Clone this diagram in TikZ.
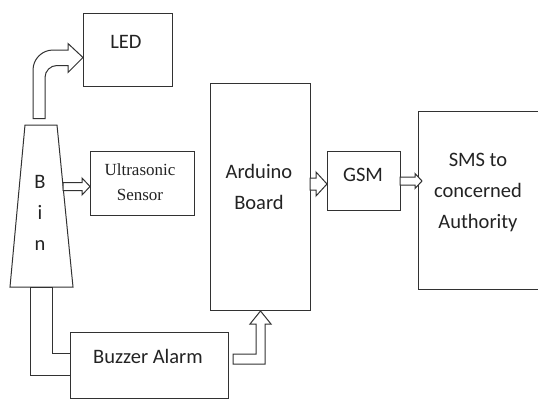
\documentclass[tikz,border=0pt]{standalone}
\usepackage{fontspec}
\setmainfont{Carlito}
\newfontfamily\sensorfont{Liberation Serif}
\usetikzlibrary{calc,positioning}
\definecolor{cLine}{RGB}{50,50,50}
\definecolor{cText}{RGB}{35,35,35}
\tikzset{
  blockbox/.style={rectangle,draw=cLine,line width=1pt,fill=white,
                   anchor=north west,inner sep=0pt},
  binline/.style={draw=cLine,line width=1pt,fill=white,line join=miter},
  lbl/.style={font=\fontsize{20.5}{31}\selectfont,align=center,
              inner sep=0pt,text=cText},
  serlbl/.style={font=\sensorfont\fontsize{17}{25}\selectfont,align=center,
                 inner sep=0pt,text=cText},
  hollow/.style={draw=cLine,line width=1pt,fill=white,line join=miter}
}

\begin{document}
\begin{tikzpicture}[x=1pt,y=-1pt]
  \useasboundingbox (0,0) rectangle (538,399);
  % boxes
  \node[blockbox,minimum width=89pt,minimum height=73pt] (led) at (83,13) {};
  \node[blockbox,minimum width=104pt,minimum height=64pt] (us) at (90,151) {};
  \node[blockbox,minimum width=100pt,minimum height=227pt] (ard) at (210,83) {};
  \node[blockbox,minimum width=73pt,minimum height=59pt] (gsm) at (327,151) {};
  \node[blockbox,minimum width=140pt,minimum height=178pt] (sms) at (418,111) {};
  \node[blockbox,minimum width=158pt,minimum height=66pt] (buz) at (70,332) {};

  % bin
  \coordinate (bintop) at (41,125);
  \coordinate (binbot) at (41.5,287);
  \draw[binline] ($(binbot)+(-31.5,0)$) -- ($(bintop)+(-16,0)$) -- ++(32,0)
      -- ($(binbot)+(31.5,0)$) -- cycle;

  % texts
  \node[lbl] (ledtxt) at (126,42) {LED};
  \node[lbl] (bintxt) at (40,213) {B\\i\\n};
  \node[serlbl] (ustxt) at (140,182) {Ultrasonic\\Sensor};
  \node[lbl] (ardtxt) at (259,187) {Arduino\\Board};
  \node[lbl] (gsmtxt) at (363,175) {GSM};
  \node[lbl] (smstxt) at (478,192) {SMS to\\concerned\\Authority};
  \node[lbl] (buztxt) at (148,356) {Buzzer Alarm};

  % hollow arrows
  \draw[hollow] ($(led.west)+(0,7.5)$) -- ++(-15,-14) -- ++(0,6.5) -- ++(-15,0)
      .. controls +(-11,0) and +(0,-11) .. ++(-20,20) -- ++(0,48.5)
      -- ++(12,0) -- ++(0,-41)
      .. controls +(0,-6.6) and +(-6.6,0) .. ++(12,-12) -- ++(11,0)
      -- ++(0,7) -- cycle;
  \draw[hollow] ($(us.west)+(0,3)$) -- ++(-8,-8.5) -- ++(0,4.5) -- ++(-19,0)
      -- ++(0,8) -- ++(19,0) -- ++(0,4.5) -- cycle;
  \draw[hollow] ($(gsm.west)+(0,3)$) -- ++(-11,-12) -- ++(0,6) -- ++(-6,0)
      -- ++(0,12) -- ++(6,0) -- ++(0,6) -- cycle;
  \draw[hollow] ($(gsm.east -| sms.west)+(4,0)$) -- ++(-7,-7.5) -- ++(0,3.5)
      -- ++(-15,0) -- ++(0,8) -- ++(15,0) -- ++(0,3.5) -- cycle;
  \draw[hollow] (ard.south) -- ++(10.5,13) -- ++(-6,0) -- ++(0,40) -- ++(-32,0)
      -- ++(0,-10) -- ++(23,0) -- ++(0,-30) -- ++(-6,0) -- cycle;
  \draw[hollow] ($(binbot)+(-11.5,0)$) -- ++(0,88) -- ++(40,0) -- ++(0,-22)
      -- ++(-18,0) -- ++(0,-66) -- cycle;
\end{tikzpicture}
\end{document}
